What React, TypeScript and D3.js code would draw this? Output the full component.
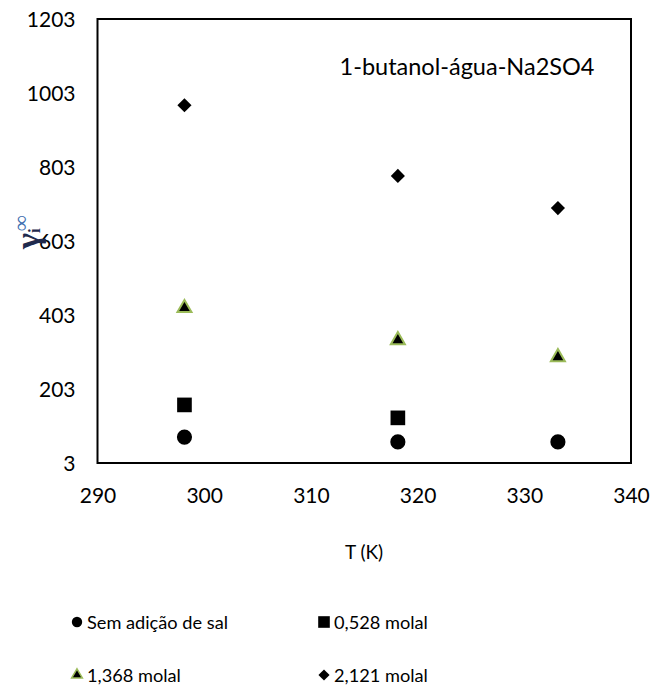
import React, { useEffect, useRef } from "react";
import * as d3 from "d3";

const temps = [298.15, 318.15, 333.15];
const semSal = [73, 60, 60];
const molal0528 = [160, 125];
const molal1368 = [422, 335, 289];
const molal2121 = [970, 779, 692];
const yTicks = [3, 203, 403, 603, 803, 1003, 1203];
const xTicks = [290, 300, 310, 320, 330, 340];
const seriesNames = ["Sem adição de sal", "0,528 molal", "1,368 molal", "2,121 molal"];

const W = 654, H = 687;
const M = { left: 97.5, right: 631, top: 19, bottom: 463 };
const FONT = "Lato, 'Open Sans', sans-serif";

export default function App() {
  const ref = useRef<SVGSVGElement>(null);
  useEffect(() => {
    const svg = d3.select(ref.current);
    svg.selectAll("*").remove();
    const x = d3.scaleLinear().domain([290, 340]).range([M.left, M.right]);
    const y = d3.scaleLinear().domain([3, 1203]).range([M.bottom, M.top]);

    svg.append("rect").attr("width", W).attr("height", H).attr("fill", "white");

    const yAx = svg.append("g").attr("transform", `translate(${M.left},0)`)
      .call(d3.axisLeft(y).tickValues(yTicks).tickSize(0).tickPadding(22).tickFormat(d3.format("d")));
    yAx.select(".domain").remove();
    yAx.selectAll("text").attr("font-family", FONT).attr("font-size", 21).attr("fill", "#000").attr("dy", "0.36em");

    const xAx = svg.append("g").attr("transform", `translate(0,${M.bottom})`)
      .call(d3.axisBottom(x).tickValues(xTicks).tickSize(0).tickPadding(25).tickFormat(d3.format("d")));
    xAx.select(".domain").remove();
    xAx.selectAll("text").attr("font-family", FONT).attr("font-size", 21).attr("fill", "#000");

    svg.append("rect")
      .attr("x", M.left).attr("y", M.top)
      .attr("width", M.right - M.left).attr("height", M.bottom - M.top)
      .attr("fill", "none").attr("stroke", "#000").attr("stroke-width", 2);

    const sym = {
      circle: d3.symbol().type(d3.symbolCircle).size(180),
      square: d3.symbol().type(d3.symbolSquare).size(215),
      triangle: d3.symbol().type(d3.symbolTriangle).size(85),
      diamond: d3.symbol().type(d3.symbolSquare).size(100),
    };

    const plot = (vals: number[], path: any, opts: any) => {
      svg.append("g").selectAll("path").data(vals).enter().append("path")
        .attr("d", path)
        .attr("transform", (d, i) => `translate(${x(temps[i])},${y(d)})${opts.rot ? " rotate(45)" : ""}`)
        .attr("fill", "#000")
        .attr("stroke", opts.stroke || "none")
        .attr("stroke-width", opts.sw || 0);
    };
    plot(semSal, sym.circle(), {});
    plot(molal0528, sym.square(), {});
    plot(molal1368, sym.triangle(), { stroke: "#9bbb59", sw: 2 });
    plot(molal2121, sym.diamond(), { rot: true });

    svg.append("text").attr("x", 467).attr("y", 75).attr("text-anchor", "middle")
      .attr("font-family", FONT).attr("font-size", 23.5).text("1-butanol-água-Na2SO4");

    svg.append("text").attr("x", 364).attr("y", 559).attr("text-anchor", "middle")
      .attr("font-family", FONT).attr("font-size", 19).text("T (K)");

    const yl = svg.append("text").attr("transform", "translate(39,249) rotate(-90)")
      .attr("text-anchor", "start").attr("font-family", "'Liberation Serif', serif")
      .attr("font-size", 34).attr("font-weight", "bold").attr("fill", "#1f2a4d");
    yl.append("tspan").text("γ");
    yl.append("tspan").attr("font-size", 17).attr("dy", 1).text("i");
    yl.append("tspan").attr("font-size", 22).attr("dx", -3).attr("dy", -12).attr("fill", "#3f6fb0").text("∞");

    const legItems = [
      { name: seriesNames[0], x: 77, y: 622, p: d3.symbol().type(d3.symbolCircle).size(85)(), rot: false, stroke: "none" },
      { name: seriesNames[1], x: 324, y: 622, p: d3.symbol().type(d3.symbolSquare).size(135)(), rot: false, stroke: "none" },
      { name: seriesNames[2], x: 77, y: 675, p: d3.symbol().type(d3.symbolTriangle).size(50)(), rot: false, stroke: "#9bbb59" },
      { name: seriesNames[3], x: 324, y: 675, p: d3.symbol().type(d3.symbolSquare).size(62)(), rot: true, stroke: "none" },
    ];
    legItems.forEach((it) => {
      svg.append("path").attr("d", it.p)
        .attr("transform", `translate(${it.x},${it.y})${it.rot ? " rotate(45)" : ""}`)
        .attr("fill", "#000").attr("stroke", it.stroke).attr("stroke-width", 1.5);
      svg.append("text").attr("x", it.x + 10).attr("y", it.y + 7)
        .attr("font-family", FONT).attr("font-size", 18.2).text(it.name);
    });
  }, []);
  return (
    <svg ref={ref} width={W} height={H}
      style={{ position: "absolute", left: 0, top: 0, display: "block" }} />
  );
}
